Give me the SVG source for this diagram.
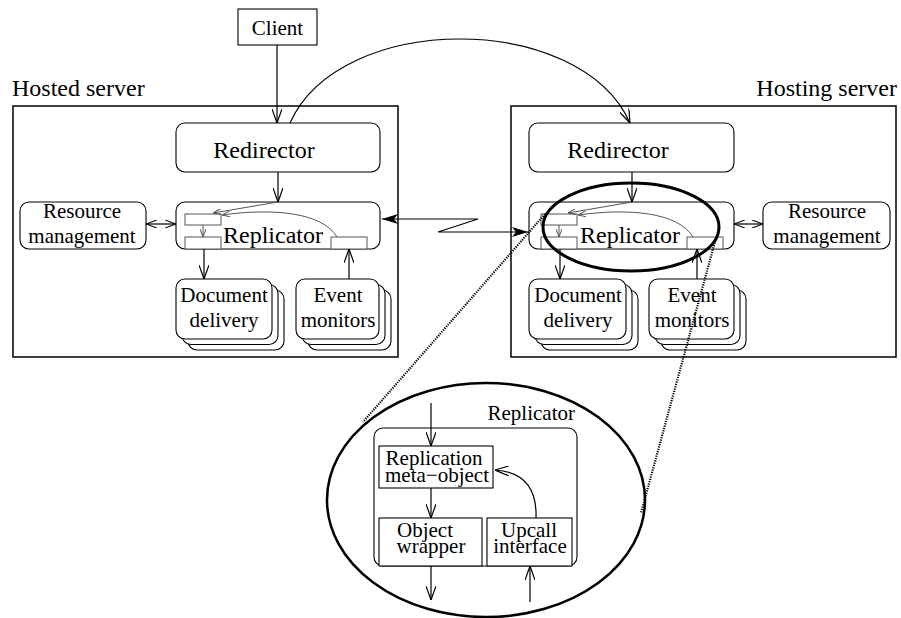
<svg xmlns="http://www.w3.org/2000/svg" width="901" height="618" viewBox="0 0 901 618">
<defs>
<style>
text{font-family:"Liberation Serif","Times New Roman",serif;fill:#000}
.t24{font-size:24px}
.t21{font-size:21px}
.box{fill:#fff;stroke:#000;stroke-width:1.1}
.srv{fill:none;stroke:#000;stroke-width:1.5}
.ln{fill:none;stroke:#000;stroke-width:1.2}
.gr{fill:#fff;stroke:#555;stroke-width:1}
.gl{fill:none;stroke:#555;stroke-width:1}
.dot{fill:none;stroke:#000;stroke-width:2.2;stroke-dasharray:1.2 1.2}
.ell{fill:none;stroke:#000;stroke-width:3}
</style>
<marker id="a" viewBox="0 0 14 10" refX="14" refY="5" markerWidth="14" markerHeight="10" markerUnits="userSpaceOnUse" orient="auto-start-reverse">
<path d="M0,0 L14,5 L0,10" fill="none" stroke="#000" stroke-width="1.2"/>
</marker>
<marker id="as" viewBox="0 0 11 8" refX="11" refY="4" markerWidth="11" markerHeight="8" markerUnits="userSpaceOnUse" orient="auto-start-reverse">
<path d="M0,0 L11,4 L0,8" fill="none" stroke="#000" stroke-width="1.1"/>
</marker>
<marker id="ag" viewBox="0 0 8 6" refX="8" refY="3" markerWidth="8" markerHeight="6" markerUnits="userSpaceOnUse" orient="auto">
<path d="M0,0 L8,3 L0,6" fill="none" stroke="#555" stroke-width="1"/>
</marker>
<marker id="af" viewBox="0 0 16 10" refX="16" refY="5" markerWidth="16" markerHeight="10" markerUnits="userSpaceOnUse" orient="auto-start-reverse">
<path d="M0,0 L16,5 L0,10 L4,5 Z" fill="#000"/>
</marker>
</defs>

<g id="client">
<rect class="box" x="238" y="9" width="79" height="36"/>
<text class="t21" x="277.5" y="35" text-anchor="middle">Client</text>
</g>

<g id="hosted-server">
<text class="t24" x="12" y="96">Hosted server</text>
<rect class="srv" x="13" y="106" width="385" height="251"/>
</g>

<g id="hosting-server">
<text class="t24" x="897" y="96" text-anchor="end">Hosting server</text>
<rect class="srv" x="511" y="106" width="385" height="251"/>
</g>

<g id="redirector-left">
<rect class="box" x="176" y="123" width="204" height="49" rx="9"/>
<text class="t24" x="264" y="158" text-anchor="middle">Redirector</text>
</g>
<g id="redirector-right">
<rect class="box" x="529" y="123" width="205" height="49" rx="9"/>
<text class="t24" x="618" y="158" text-anchor="middle">Redirector</text>
</g>

<g id="resource-left">
<rect class="box" x="20" y="202" width="126" height="47" rx="9"/>
<text class="t21" x="82" y="218" text-anchor="middle">Resource</text>
<text class="t21" x="82" y="243" text-anchor="middle">management</text>
</g>
<g id="resource-right">
<rect class="box" x="763" y="202" width="127" height="47" rx="9"/>
<text class="t21" x="827" y="218" text-anchor="middle">Resource</text>
<text class="t21" x="827" y="243" text-anchor="middle">management</text>
</g>

<g id="replicator-left">
<rect class="box" x="176" y="202" width="204" height="47" rx="9"/>
<text class="t24" x="273" y="243" text-anchor="middle">Replicator</text>
<rect class="gr" x="185" y="214" width="36" height="11"/>
<rect class="gr" x="185" y="237" width="36" height="12"/>
<rect class="gr" x="331" y="237" width="36" height="12"/>
<line class="gl" x1="278" y1="202" x2="213" y2="213" marker-end="url(#ag)"/>
<line class="gl" x1="203" y1="225" x2="203" y2="237" marker-end="url(#ag)"/>
<path class="gl" d="M337,237 C322,212 272,208 222,215" marker-end="url(#ag)"/>
</g>
<g id="replicator-right">
<rect class="box" x="529" y="202" width="205" height="47" rx="9"/>
<text class="t24" x="630" y="243" text-anchor="middle">Replicator</text>
<rect class="gr" x="541" y="214" width="36" height="11"/>
<rect class="gr" x="541" y="237" width="36" height="12"/>
<rect class="gr" x="687" y="237" width="36" height="12"/>
<line class="gl" x1="632" y1="202" x2="568" y2="213" marker-end="url(#ag)"/>
<line class="gl" x1="559" y1="225" x2="559" y2="237" marker-end="url(#ag)"/>
<path class="gl" d="M693,237 C678,212 628,208 578,215" marker-end="url(#ag)"/>
</g>

<g id="document-left">
<rect class="box" x="188" y="290" width="96" height="60" rx="9"/>
<rect class="box" x="182" y="284.5" width="96" height="60" rx="9"/>
<rect class="box" x="176" y="279" width="96" height="60" rx="9"/>
<text class="t21" x="224" y="302" text-anchor="middle">Document</text>
<text class="t21" x="224" y="327" text-anchor="middle">delivery</text>
</g>
<g id="event-left">
<rect class="box" x="308" y="290" width="83" height="60" rx="9"/>
<rect class="box" x="302" y="284.5" width="83" height="60" rx="9"/>
<rect class="box" x="296" y="279" width="83" height="60" rx="9"/>
<text class="t21" x="338" y="302" text-anchor="middle">Event</text>
<text class="t21" x="338" y="327" text-anchor="middle">monitors</text>
</g>
<g id="document-right">
<rect class="box" x="541" y="290" width="97" height="60" rx="9"/>
<rect class="box" x="535" y="284.5" width="97" height="60" rx="9"/>
<rect class="box" x="529" y="279" width="97" height="60" rx="9"/>
<text class="t21" x="578" y="302" text-anchor="middle">Document</text>
<text class="t21" x="578" y="327" text-anchor="middle">delivery</text>
</g>
<g id="event-right">
<rect class="box" x="661" y="290" width="85" height="60" rx="9"/>
<rect class="box" x="655" y="284.5" width="85" height="60" rx="9"/>
<rect class="box" x="649" y="279" width="85" height="60" rx="9"/>
<text class="t21" x="692" y="302" text-anchor="middle">Event</text>
<text class="t21" x="692" y="327" text-anchor="middle">monitors</text>
</g>

<g id="connectors">
<line class="ln" x1="277" y1="45" x2="277" y2="123" marker-end="url(#a)"/>
<path class="ln" d="M290,123 C340,11 580,11 630,123" marker-end="url(#a)"/>
<line class="ln" x1="278" y1="172" x2="278" y2="202" marker-end="url(#a)"/>
<line class="ln" x1="632" y1="172" x2="632" y2="202" marker-end="url(#a)"/>
<line class="ln" x1="146" y1="224" x2="176" y2="224" marker-start="url(#as)" marker-end="url(#as)"/>
<line class="ln" x1="734" y1="224" x2="763" y2="224" marker-start="url(#as)" marker-end="url(#as)"/>
<line class="ln" x1="204" y1="249" x2="204" y2="279" marker-end="url(#a)"/>
<line class="ln" x1="349" y1="279" x2="349" y2="249" marker-end="url(#a)"/>
<line class="ln" x1="560" y1="249" x2="560" y2="279" marker-end="url(#a)"/>
<line class="ln" x1="697" y1="279" x2="697" y2="249" marker-end="url(#a)"/>
<polyline class="ln" points="382,219 478,219 438,232 528,232" marker-start="url(#af)" marker-end="url(#af)"/>
</g>

<g id="zoom-ellipse">
<ellipse class="ell" cx="631" cy="227" rx="88" ry="44"/>
</g>

<g id="zoom-lines">
<line class="dot" x1="545" y1="214" x2="363" y2="422"/>
<line class="dot" x1="716" y1="238" x2="641" y2="513"/>
</g>

<g id="replicator-detail">
<ellipse cx="486" cy="500" rx="159" ry="117" fill="none" stroke="#000" stroke-width="2.5"/>
<text class="t21" x="575" y="420" text-anchor="end">Replicator</text>
<rect class="box" x="374" y="428" width="203" height="138" rx="9"/>
<g id="meta-object">
<rect class="box" x="379" y="446" width="114" height="42"/>
<text class="t21" x="434" y="465" text-anchor="middle">Replication</text>
<text class="t21" x="437" y="482" text-anchor="middle">meta−object</text>
</g>
<g id="object-wrapper">
<rect class="box" x="379" y="518" width="103" height="48"/>
<text class="t21" x="425" y="537" text-anchor="middle">Object</text>
<text class="t21" x="431" y="553" text-anchor="middle">wrapper</text>
</g>
<g id="upcall-interface">
<rect class="box" x="487" y="518" width="85" height="48"/>
<text class="t21" x="529" y="537" text-anchor="middle">Upcall</text>
<text class="t21" x="530" y="553" text-anchor="middle">interface</text>
</g>
<g id="detail-connectors">
<line class="ln" x1="431" y1="403" x2="431" y2="446" marker-end="url(#a)"/>
<line class="ln" x1="431" y1="488" x2="431" y2="518" marker-end="url(#a)"/>
<path class="ln" d="M536,518 C537,490 526,472 495,470" marker-end="url(#a)"/>
<line class="ln" x1="431" y1="566" x2="431" y2="600" marker-end="url(#a)"/>
<line class="ln" x1="530" y1="602" x2="530" y2="566" marker-end="url(#a)"/>
</g>
</g>
</svg>
